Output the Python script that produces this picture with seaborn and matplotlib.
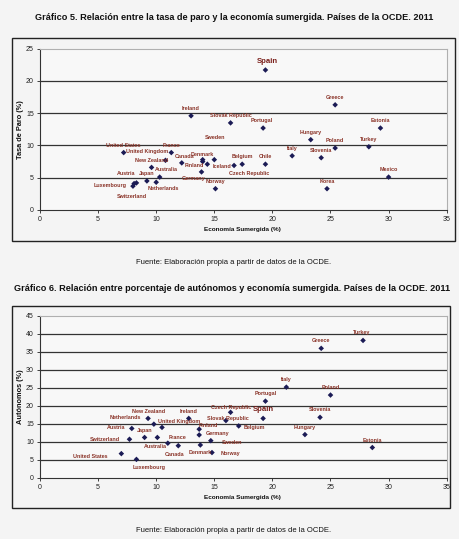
import matplotlib
matplotlib.use("Agg")
import numpy as np
import pandas as pd
import seaborn as sns
import matplotlib.pyplot as plt
from matplotlib.patches import Rectangle

sns.set_style("white")
plt.rcParams['font.family'] = ['Liberation Sans', 'DejaVu Sans']

# ---- data: Gráfico 5 (paro vs economía sumergida)
paises_5 = ['Spain', 'Greece', 'Ireland', 'Slovak Republic', 'Portugal', 'Estonia',
            'Sweden', 'Hungary', 'Poland', 'Turkey', 'Italy', 'Slovenia', 'Chile',
            'Belgium', 'Czech Republic', 'Iceland', 'Denmark', 'Finland', 'Canada',
            'Germany', 'Norway', 'Korea', 'Mexico', 'United States', 'France',
            'United Kingdom', 'New Zealand', 'Australia', 'Japan', 'Netherlands',
            'Austria', 'Luxembourg', 'Switzerland']
sumergida_5 = [19.4, 25.4, 13.0, 16.4, 19.2, 29.3, 15.0, 23.3, 25.4, 28.3, 21.7, 24.2, 19.4,
               17.4, 16.7, 14.4, 14.0, 14.0, 12.2, 13.9, 15.1, 24.7, 30.0, 7.2, 11.3,
               10.8, 9.6, 10.3, 9.2, 10.0, 8.3, 8.1, 8.0]
paro_5 = [21.7, 16.3, 14.6, 13.5, 12.7, 12.7, 7.8, 10.9, 9.6, 9.8, 8.4, 8.1, 7.1,
          7.1, 6.9, 7.1, 7.8, 7.5, 7.3, 5.9, 3.3, 3.3, 5.1, 8.9, 8.9,
          7.7, 6.6, 5.1, 4.5, 4.3, 4.2, 4.1, 3.7]

# ---- data: Gráfico 6 (autónomos vs economía sumergida)
paises_6 = ['Italy', 'Poland', 'Portugal', 'Czech Republic', 'Spain', 'Slovak Republic',
            'Slovenia', 'Ireland', 'New Zealand', 'Netherlands', 'United Kingdom',
            'Finland', 'Belgium', 'Hungary', 'Austria', 'Japan', 'France', 'Australia',
            'Switzerland', 'Germany', 'Sweden', 'Canada', 'Denmark', 'Norway',
            'United States', 'Luxembourg', 'Estonia', 'Greece', 'Turkey']
sumergida_6 = [21.2, 25.0, 19.4, 16.4, 19.2, 16.0, 24.1, 12.8, 9.3, 9.8, 10.5,
               13.7, 17.1, 22.8, 7.9, 9.0, 10.1, 11.0, 7.7, 13.7, 14.7, 11.9, 13.8, 14.8,
               7.0, 8.3, 28.6, 24.2, 27.8]
autonomos_6 = [25.2, 23.0, 21.3, 18.2, 16.5, 15.9, 16.8, 16.5, 16.5, 14.9, 14.0,
               13.5, 14.4, 12.0, 13.7, 11.2, 11.2, 9.6, 10.7, 11.9, 10.3, 8.9, 9.1, 7.0,
               6.7, 5.1, 8.4, 36.0, 38.2]

df5 = pd.DataFrame({'pais': paises_5, 'x': sumergida_5, 'y': paro_5})
df6 = pd.DataFrame({'pais': paises_6, 'x': sumergida_6, 'y': autonomos_6})

# label offsets in pixels (dx, dy up) where the label is not just above the dot
off5 = {'Spain': (2, 8.5), 'Sweden': (1, 22.6), 'Czech Republic': (15, -8.2),
        'Iceland': (14.3, -2), 'Finland': (-8, -4), 'Denmark': (0, 5.3), 'Canada': (3, 6.7),
        'Germany': (-8, -6.3), 'United Kingdom': (-18, 9), 'Australia': (7, 7.7),
        'Austria': (-10, 9), 'Luxembourg': (-24, -2.4), 'Switzerland': (-1, -10),
        'Netherlands': (7, -6.7), 'Portugal': (-1.3, 8)}
off6 = {'Spain': (0.6, 9), 'Czech Republic': (0.3, 4.4), 'Slovak Republic': (2, 1.7),
        'Belgium': (15.5, -1.7), 'Netherlands': (-28.5, 6.7), 'United Kingdom': (17.5, 6.3),
        'Austria': (-16, 1), 'Switzerland': (-25, -0.7), 'France': (19.7, 0),
        'Australia': (-12, -3.4), 'Canada': (-4, -8.7), 'Finland': (9, 3.3),
        'Germany': (18, 1), 'Sweden': (21, -2), 'Denmark': (0, -7.7), 'Norway': (18.3, -1.3),
        'United States': (-31.5, -2.4), 'Luxembourg': (13, -8.4), 'Turkey': (-1, 7.7)}

W, H = 460, 539
BG = '#f4f4f4'
LABEL_COL = '#8a3328'
TITLE_FONT = ['Liberation Sans Narrow', 'Liberation Sans', 'DejaVu Sans']
fig = plt.figure(figsize=(W / 100, H / 100), dpi=100, facecolor=BG)


def fig_text(px, py, s, width=None, **kw):
    t = fig.text(px / W, 1 - py / H, s, ha='center', va='center', **kw)
    if width:
        r = fig.canvas.get_renderer()
        w = t.get_window_extent(r).width
        t.set_fontsize(t.get_fontsize() * width / w)
    return t


def frame(x0, y0, x1, y1):
    fig.add_artist(Rectangle((x0 / W, 1 - y1 / H), (x1 - x0) / W, (y1 - y0) / H,
                             transform=fig.transFigure, fill=False, ec='#222222', lw=1.0))


def panel(top, bottom, df, ymax, offsets, ylabel, xlab_y):
    ax = fig.add_axes([40 / W, 1 - bottom / H, 406.7 / W, (bottom - top) / H])
    ax.set_facecolor('#f8f8f8')
    for yv in range(5, ymax, 5):
        ax.axhline(yv, color='#333333', lw=0.9, zorder=1)
    sns.scatterplot(data=df, x='x', y='y', ax=ax, marker='D', s=8, color='#1b1b55',
                    edgecolor='none', zorder=3, legend=False)
    for _, r in df.iterrows():
        dx, dy = offsets.get(r['pais'], (0, 7.4))
        big = r['pais'] == 'Spain'
        ax.annotate(r['pais'], (r['x'], r['y']), xytext=(dx, dy), textcoords='offset pixels',
                    ha='center', va='center', fontsize=5.6 if big else 3.9,
                    fontweight='bold', color='#7a1f1a' if big else LABEL_COL, zorder=4)
    ax.set_xlim(0, 35)
    ax.set_ylim(0, ymax)
    ax.set_xticks(range(0, 36, 5))
    ax.set_yticks(range(0, ymax + 1, 5))
    ax.tick_params(axis='both', labelsize=5, length=2.5, width=0.6, pad=2,
                   colors='#222222', direction='out', left=True, bottom=True)
    ax.set_xlabel('')
    ax.set_ylabel('')
    for s in ['left', 'bottom']:
        ax.spines[s].set_color('#333333')
        ax.spines[s].set_linewidth(0.8)
    for s in ['top', 'right']:
        ax.spines[s].set_color('#b0b0b0')
        ax.spines[s].set_linewidth(0.8)
    fig_text(242.5, xlab_y, 'Economía Sumergida (%)', width=78, fontsize=6,
             fontweight='bold', color='#111111')
    fig_text(21, (top + bottom) / 2, ylabel, fontsize=5.3, fontweight='bold',
             rotation=90, color='#111111')
    return ax


# ---- Gráfico 5
fig_text(234, 18, 'Gráfico 5. Relación entre la tasa de paro y la economía sumergida. '
         'Países de la OCDE. 2011', width=402, fontsize=8, fontweight='bold',
         family=TITLE_FONT, color='#111111')
frame(11.7, 37.7, 455, 240.7)
panel(48.7, 210, df5, 25, off5, 'Tasa de Paro (%)', 230)
fig_text(234, 262.5, 'Fuente: Elaboración propia a partir de datos de la OCDE.', width=196,
         fontsize=6, family=TITLE_FONT, color='#111111')

# ---- Gráfico 6
fig_text(232.5, 288.5, 'Gráfico 6. Relación entre porcentaje de autónomos y economía sumergida. '
         'Países de la OCDE. 2011', width=438, fontsize=8, fontweight='bold',
         family=TITLE_FONT, color='#111111')
frame(11.7, 305.7, 450, 508.3)
panel(316, 477.7, df6, 45, off6, 'Autónomos (%)', 497.7)
fig_text(234, 530, 'Fuente: Elaboración propia a partir de datos de la OCDE.', width=196,
         fontsize=6, family=TITLE_FONT, color='#111111')

fig.savefig('out.png', dpi=100, facecolor=BG)
